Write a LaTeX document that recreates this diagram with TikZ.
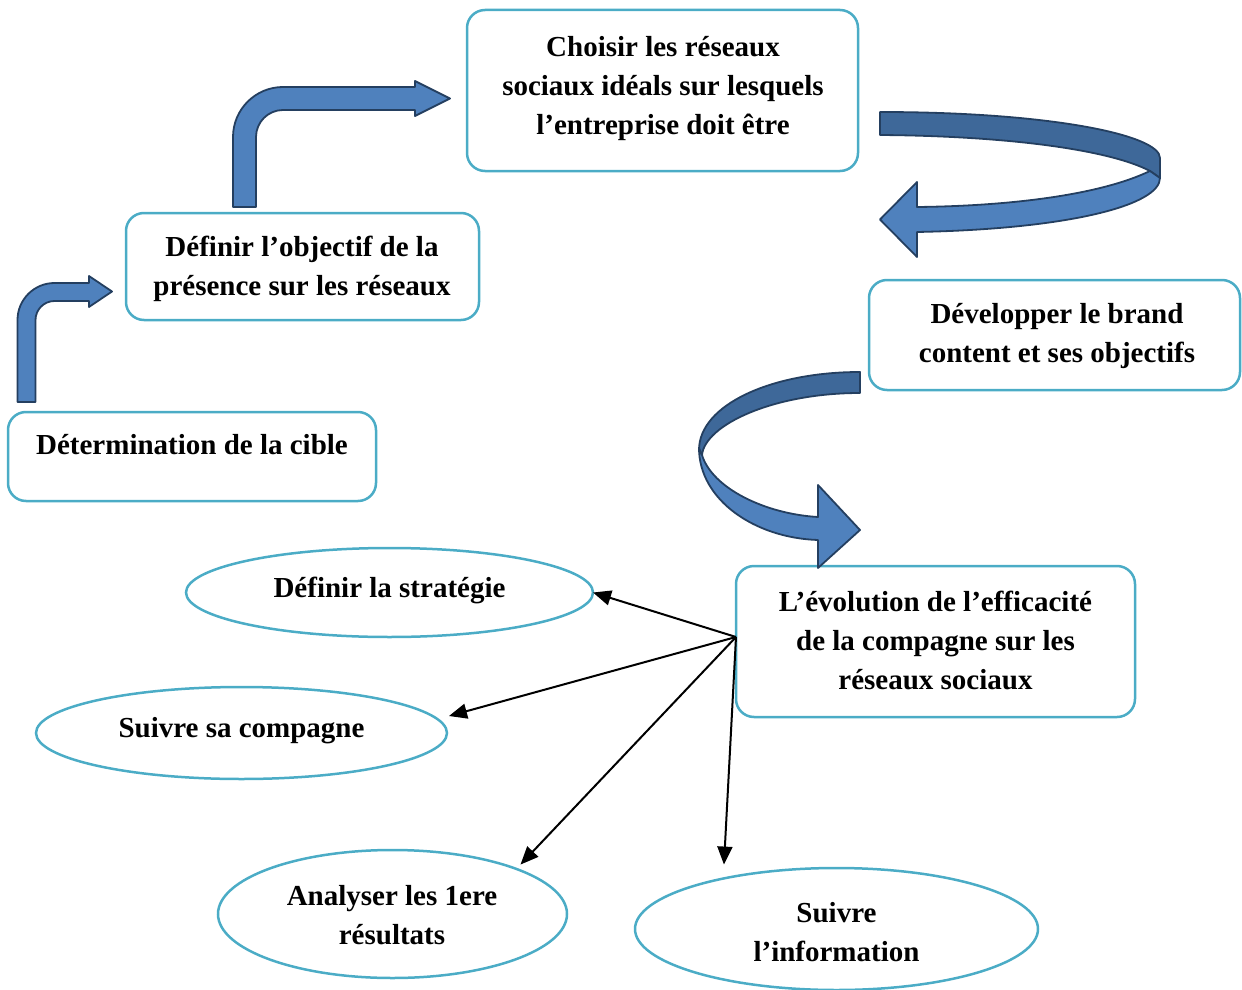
\documentclass[tikz,border=0pt]{standalone}
\usepackage{fontspec}
\setmainfont{Liberation Serif}
\usetikzlibrary{shapes.geometric,arrows.meta,calc}
\definecolor{boxblue}{HTML}{4BACC6}
\definecolor{arrfill}{HTML}{4F81BD}
\definecolor{arrdark}{HTML}{3E6899}
\definecolor{arrline}{HTML}{243F60}
\tikzset{
  box/.style={draw=boxblue, line width=1.25pt, rounded corners=9pt, inner sep=0pt, outer sep=0pt},
  ell/.style={ellipse, draw=boxblue, line width=1.25pt, inner sep=0pt, outer sep=0pt},
  txt/.style={font=\fontsize{14.5}{19.5}\selectfont\bfseries, align=center, text height=0.7em, text depth=0.25em, inner sep=0pt},
  shapearrow/.style={fill=arrfill, draw=arrline, line width=0.9pt, line join=round},
  shapeback/.style={fill=arrdark, draw=arrline, line width=0.9pt, line join=round},
  conn/.style={line width=1pt, -{Triangle[length=9pt,width=7.5pt]}}
}
\begin{document}
\begin{tikzpicture}[x=0.5pt,y=-0.5pt]
\useasboundingbox (0,0) rectangle (1242,990);
% boxes
\node[box, minimum width=184pt, minimum height=44.5pt] (b1) at (192,456.5) {};
\node[box, minimum width=176.5pt, minimum height=53.5pt] (b2) at (302.5,266.5) {};
\node[box, minimum width=195.5pt, minimum height=80.5pt] (b3) at (662.5,90.5) {};
\node[box, minimum width=185.5pt, minimum height=55pt] (b4) at (1054.5,335) {};
\node[box, minimum width=199.5pt, minimum height=75.5pt] (b5) at (935.5,641.5) {};
% ellipses
\node[ell, minimum width=203.5pt, minimum height=44.5pt] (e1) at (389.5,592.5) {};
\node[ell, minimum width=205.5pt, minimum height=46pt] (e2) at (241.5,733) {};
\node[ell, minimum width=174.5pt, minimum height=64pt] (e3) at (392.5,914) {};
\node[ell, minimum width=201.5pt, minimum height=61pt] (e4) at (836.5,929) {};
% texts
\node[txt] (t1) at (192,450) {Détermination de la cible};
\node[txt] (t2) at (302,291) {Définir l’objectif de la\\présence sur les réseaux};
\node[txt] (t3) at (663,130) {Choisir les réseaux\\sociaux idéals sur lesquels\\l’entreprise doit être};
\node[txt] (t4) at (1057,358) {Développer le brand\\content et ses objectifs};
\node[txt] (t5) at (935.5,685) {L’évolution de l’efficacité\\de la compagne sur les\\réseaux sociaux};
\node[txt] (te1) at (389.5,593) {Définir la stratégie};
\node[txt] (te2) at (241.5,733) {Suivre sa compagne};
\node[txt] (te3) at (392,940) {Analyser les 1ere\\résultats};
\node[txt] (te4) at (836.5,957) {Suivre\\l’information};
% small bent arrow
\filldraw[shapearrow] (17.5,402) -- (17.5,320) .. controls (17.5,299.6) and (34.1,283) .. (54.5,283)
  -- (89,283) -- (89,276) -- (112,291.5) -- (89,307) -- (89,301) -- (54.5,301)
  .. controls (44,301) and (35.5,309.5) .. (35.5,320) -- (35.5,402) -- cycle;
% large bent arrow
\filldraw[shapearrow] (233,207) -- (233,137) .. controls (233,109.4) and (255.4,87) .. (283,87)
  -- (415,87) -- (415,81) -- (450,98.5) -- (415,116) -- (415,110) -- (283,110)
  .. controls (268.1,110) and (256,122.1) .. (256,137) -- (256,207) -- cycle;
% ribbon arrow top right
\filldraw[shapeback] (880,112) .. controls (1050,112) and (1160,135) .. (1160,158)
  -- (1160,178) -- (1150,171) .. controls (1110,150) and (1010,136) .. (880,135) -- cycle;
\filldraw[shapearrow] (1150,171) .. controls (1100,195) and (1010,206) .. (917,207)
  -- (917,182) -- (880,219.5) -- (917,257) -- (917,232)
  .. controls (1070,229) and (1160,205) .. (1160,178) -- cycle;
% ribbon arrow right middle
\filldraw[shapeback] (860,372) .. controls (771,372) and (699,405) .. (699,450)
  -- (702,455) .. controls (705,425) and (773,393) .. (860,393) -- cycle;
\filldraw[shapearrow] (699,448) .. controls (699,500) and (755,538) .. (818,540)
  -- (818,568) -- (860,530) -- (818,485) -- (818,517)
  .. controls (765,514) and (712,488) .. (702,455) -- cycle;
% connectors
\coordinate (src) at (736,637);
\draw[conn] (src) -- (e1.east);
\draw[conn] (src) -- ($(e2.east)+(2,-17)$);
\draw[conn, shorten >=3pt] (src) -- (e3.20.6);
\draw[conn, shorten >=7pt] (src) -- (e4.156.6);
\end{tikzpicture}
\end{document}
